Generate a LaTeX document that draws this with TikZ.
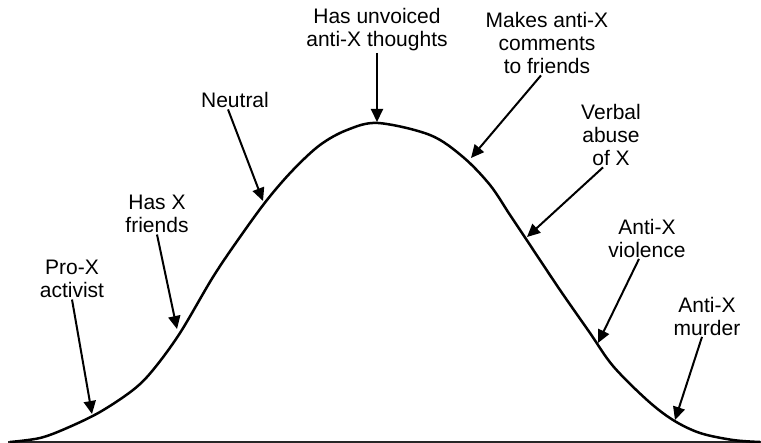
\documentclass[tikz,border=0pt]{standalone}
\usepackage{fontspec}
\setmainfont{Liberation Sans}
\usetikzlibrary{arrows.meta}
\begin{document}
\begin{tikzpicture}[
    x=1pt,y=-1pt,
    lbl/.style={align=center,inner sep=1.5pt,font=\fontsize{21}{23}\selectfont},
    arr/.style={-{Triangle[length=13pt,width=12pt]},line width=2pt},
    bell/.style={line width=2.5pt,line join=round}
]
\useasboundingbox (0,0) rectangle (761,443);
\draw[line width=2pt,black!85] (8,442) -- (761,442);
\draw[bell] plot[smooth,tension=0.55] coordinates {
    (10,442) (40,438) (67,428) (100,412) (133,390) (153,370) (180,333)
    (213,277) (240,237) (267,200) (293,170) (320,145) (347,130) (378,123)
    (430,135) (463,157) (490,185) (510,215) (530,245) (560,290) (590,333)
    (613,366) (647,400) (673,420) (700,433) (733,440) (760,442)};
\node[lbl] (prox) at (72,279) {Pro-X\\activist};
\node[lbl] (hasx) at (157,214) {Has X\\friends};
\node[lbl] (neutral) at (235,100) {Neutral};
\node[lbl] (unvoiced) at (377,30) {Has unvoiced\\anti-X thoughts};
\node[lbl] (comments) at (547,43) {Makes anti-X\\comments\\to friends};
\node[lbl] (verbal) at (611,135) {Verbal\\abuse\\of X};
\node[lbl] (violence) at (647,238) {Anti-X\\violence};
\node[lbl] (murder) at (707,316) {Anti-X\\murder};
\coordinate (proxtip) at (92,414);
\coordinate (hasxtip) at (177,329);
\coordinate (neutraltip) at (263,201);
\coordinate (unvoicedtip) at (377,122);
\coordinate (commentstip) at (471,158);
\coordinate (verbaltip) at (527,237);
\coordinate (violencetip) at (598,343);
\coordinate (murdertip) at (675,420);
\draw[arr] (prox.south) -- (proxtip);
\draw[arr] (hasx.south) -- (hasxtip);
\draw[arr] ([xshift=-7pt]neutral.south) -- (neutraltip);
\draw[arr] (unvoiced.south) -- (unvoicedtip);
\draw[arr] ([xshift=-6pt]comments.south) -- (commentstip);
\draw[arr] ([xshift=-8pt]verbal.south) -- (verbaltip);
\draw[arr] ([xshift=-8pt]violence.south) -- (violencetip);
\draw[arr] ([xshift=-5pt]murder.south) -- (murdertip);
\end{tikzpicture}
\end{document}
